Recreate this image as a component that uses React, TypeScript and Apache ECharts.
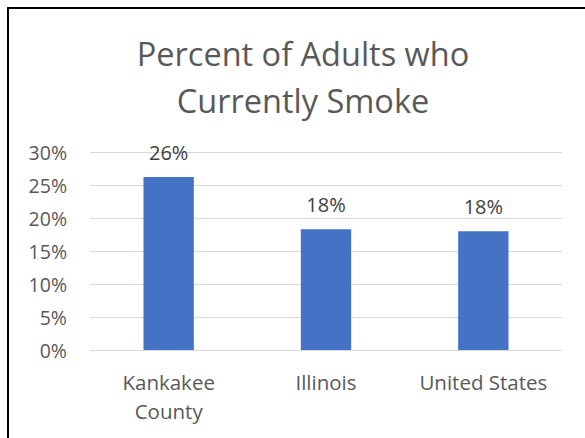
import React, { useEffect, useRef } from "react";
import * as echarts from "echarts";

const categories = ["Kankakee County", "Illinois", "United States"];
const values = [26.2, 18.3, 18.0];
const yTicks = [0, 5, 10, 15, 20, 25, 30];

export default function App() {
  const ref = useRef<HTMLDivElement>(null);
  useEffect(() => {
    if (!ref.current) return;
    const chart = echarts.init(ref.current, null, { renderer: "svg" });
    const font = "'Open Sans', 'Noto Sans', sans-serif";
    chart.setOption({
      animation: false,
      textStyle: { fontFamily: font },
      title: {
        text: "Percent of Adults who\nCurrently Smoke",
        left: 298,
        textAlign: "center",
        top: 25,
        textStyle: {
          fontFamily: font,
          fontSize: 32.5,
          fontWeight: "normal",
          color: "#595959",
          lineHeight: 47,
        },
      },
      grid: { left: 90, right: 23, top: 152, bottom: 88, containLabel: false },
      xAxis: {
        type: "category",
        data: categories,
        axisTick: { show: false },
        axisLine: { lineStyle: { color: "#D9D9D9", width: 1 } },
        axisLabel: {
          color: "#595959",
          fontSize: 20.5,
          lineHeight: 29,
          margin: 17,
          interval: 0,
          formatter: (v: string) => v.replace(" County", "\nCounty"),
        },
      },
      yAxis: {
        type: "value",
        min: yTicks[0],
        max: yTicks[yTicks.length - 1],
        interval: 5,
        axisLine: { show: false },
        axisTick: { show: false },
        splitLine: { lineStyle: { color: "#D9D9D9", width: 1 } },
        axisLabel: {
          color: "#595959",
          fontSize: 19.5,
          margin: 23,
          formatter: (v: number) => `${v}%`,
        },
      },
      series: [
        {
          type: "bar",
          data: values,
          barWidth: "32%",
          itemStyle: { color: "#4472C4" },
          label: {
            show: true,
            position: "top",
            distance: 15,
            color: "#404040",
            fontSize: 20,
            formatter: (p: any) => `${Math.round(p.value)}%`,
          },
        },
      ],
    });
    return () => chart.dispose();
  }, []);
  return (
    <div style={{ position: "absolute", left: 0, top: 0, width: 585, height: 438, background: "#fff" }}>
      <div ref={ref} style={{ position: "absolute", left: 0, top: 0, width: 585, height: 438 }} />
      <div
        style={{
          position: "absolute",
          left: 7,
          top: 7,
          width: 600,
          height: 460,
          borderLeft: "2px solid #000",
          borderTop: "2px solid #000",
          pointerEvents: "none",
        }}
      />
    </div>
  );
}
